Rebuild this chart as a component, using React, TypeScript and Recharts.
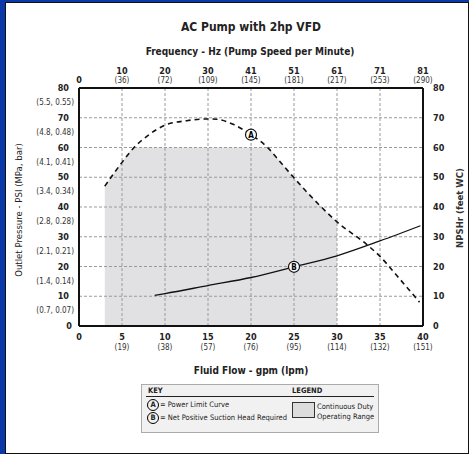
import React from 'react';
import {
  ComposedChart, Line, Area, XAxis, YAxis, ReferenceLine, ReferenceDot,
} from 'recharts';

// flow ticks (gpm) and their lpm / frequency labels
const flowTicks = [0, 5, 10, 15, 20, 25, 30, 35, 40];
const lpmLabels = ['', '(19)', '(38)', '(57)', '(76)', '(95)', '(114)', '(132)', '(151)'];
const hzLabels = ['0', '10', '20', '30', '41', '51', '61', '71', '81'];
const rpmLabels = ['', '(36)', '(72)', '(109)', '(145)', '(181)', '(217)', '(253)', '(290)'];

// pressure ticks (psi) and their MPa / bar labels
const psiTicks = [0, 10, 20, 30, 40, 50, 60, 70, 80];
const mpaLabels = ['', '(0.7, 0.07)', '(1.4, 0.14)', '(2.1, 0.21)', '(2.8, 0.28)', '(3.4, 0.34)', '(4.1, 0.41)', '(4.8, 0.48)', '(5.5, 0.55)'];

const gridX = [5, 10, 15, 20, 25, 30, 35];
const gridY = [10, 20, 30, 40, 50, 60, 70];

// A - power limit curve
const powerLimit = [
  { x: 3, y: 47 }, { x: 5, y: 55 }, { x: 6.5, y: 60.3 }, { x: 8, y: 64 },
  { x: 10, y: 67.5 }, { x: 12.5, y: 69 }, { x: 15, y: 69.6 }, { x: 16, y: 69.5 },
  { x: 18, y: 67.7 }, { x: 20, y: 64.3 }, { x: 22, y: 59.8 }, { x: 23, y: 56.5 },
  { x: 25, y: 49.8 }, { x: 28, y: 40.5 }, { x: 30, y: 35 }, { x: 33.5, y: 27.3 },
  { x: 35, y: 23.4 }, { x: 37, y: 16.8 }, { x: 39.6, y: 8 },
];

// B - net positive suction head required
const npshr = [
  { x: 8.8, y: 10.3 }, { x: 10, y: 10.9 }, { x: 15, y: 13.6 }, { x: 20, y: 16.3 },
  { x: 25, y: 19.9 }, { x: 30, y: 23.6 }, { x: 35, y: 28.6 }, { x: 39.7, y: 33.7 },
];

// continuous duty operating range
const dutyRange = [
  { x: 3, y: 47 }, { x: 5, y: 55 }, { x: 6.5, y: 60 }, { x: 21.6, y: 60 },
  { x: 22, y: 59.8 }, { x: 23, y: 56.5 }, { x: 25, y: 49.8 }, { x: 28, y: 40.5 },
  { x: 30, y: 35 },
];

const FONT = '"DejaVu Sans Condensed", "DejaVu Sans", sans-serif';

const BottomTick = ({ x, y, payload }: any) => {
  const i = flowTicks.indexOf(payload.value);
  return (
    <g fontFamily={FONT}>
      <text x={x} y={y + 11} textAnchor="middle" dominantBaseline="central" fontSize={9} fontWeight="bold" fill="#222">{payload.value}</text>
      {lpmLabels[i] && (
        <text x={x} y={y + 21} textAnchor="middle" dominantBaseline="central" fontSize={8} fill="#333">{lpmLabels[i]}</text>
      )}
    </g>
  );
};

const TopTick = ({ x, y, payload }: any) => {
  const i = flowTicks.indexOf(Number(payload.value));
  if (i <= 0) return null;
  return (
    <g fontFamily={FONT}>
      <text x={x} y={y - 17} textAnchor="middle" dominantBaseline="central" fontSize={9} fontWeight="bold" fill="#222">{hzLabels[i]}</text>
      <text x={x} y={y - 8} textAnchor="middle" dominantBaseline="central" fontSize={8} fill="#333">{rpmLabels[i]}</text>
    </g>
  );
};

const LeftTick = ({ x, y, payload }: any) => {
  const i = psiTicks.indexOf(payload.value);
  return (
    <g fontFamily={FONT}>
      <text x={i === 0 ? x - 7 : x - 10} y={y} textAnchor="end" dominantBaseline="central" fontSize={9} fontWeight="bold" fill="#222">{payload.value}</text>
      {mpaLabels[i] && (
        <text x={x - 5} y={y + 14.5} textAnchor="end" dominantBaseline="central" fontSize={8} fill="#333">{mpaLabels[i]}</text>
      )}
    </g>
  );
};

const RightTick = ({ x, y, payload }: any) => (
  <text x={x + 10} y={y} textAnchor="start" dominantBaseline="central" fontSize={9} fontWeight="bold" fill="#222" fontFamily={FONT}>{payload.value}</text>
);

const markerLabel = (v: string) => ({ value: v, position: 'center' as const, fontSize: 8, fontWeight: 'bold', fill: '#000', fontFamily: FONT });

const KeyCircle = ({ letter }: { letter: string }) => (
  <span style={{
    display: 'inline-block', width: 10, height: 10, borderRadius: '50%', border: '1.2px solid #000',
    fontSize: 7.5, fontWeight: 'bold', lineHeight: '10px', textAlign: 'center', marginRight: 1, verticalAlign: 'middle',
  }}>{letter}</span>
);

export default function App() {
  return (
    <div style={{ position: 'absolute', left: 0, top: 0, width: 469, height: 454, background: '#0b38a8', fontFamily: FONT }}>
      <div style={{ position: 'absolute', left: 5, top: 2, width: 462, height: 450, background: '#fff', borderLeft: '1.5px solid #111', borderTop: '1.5px solid #111', borderBottom: '1.5px solid #111', borderRight: '1px solid #111' }} />
      <div style={{ position: 'absolute', left: 0, width: 502, top: 20, textAlign: 'center', fontSize: 12, fontWeight: 'bold', color: '#222' }}>AC Pump with 2hp VFD</div>
      <div style={{ position: 'absolute', left: 0, width: 500, top: 46, textAlign: 'center', fontSize: 10, fontWeight: 'bold', color: '#222' }}>Frequency - Hz (Pump Speed per Minute)</div>
      <div style={{ position: 'absolute', left: 0, width: 502, top: 365, textAlign: 'center', fontSize: 10, fontWeight: 'bold', color: '#222' }}>Fluid Flow - gpm (lpm)</div>
      <div style={{ position: 'absolute', left: 18, top: 210, width: 0, height: 0 }}>
        <div style={{ position: 'absolute', transform: 'translate(-50%, -50%) rotate(-90deg)', whiteSpace: 'nowrap', fontSize: 9.5, color: '#222' }}>Outlet Pressure - PSI (MPa, bar)</div>
      </div>
      <div style={{ position: 'absolute', left: 459, top: 208, width: 0, height: 0 }}>
        <div style={{ position: 'absolute', transform: 'translate(-50%, -50%) rotate(-90deg)', whiteSpace: 'nowrap', fontSize: 9.5, fontWeight: 'bold', color: '#333' }}>NPSHr (feet WC)</div>
      </div>

      <div style={{ position: 'absolute', left: 0, top: 0 }}>
        <ComposedChart width={469} height={454} margin={{ top: 58, right: 6, bottom: 98, left: 19 }}>
          <XAxis xAxisId={0} dataKey="x" type="number" domain={[0, 40]} ticks={flowTicks} orientation="bottom"
            height={30} tickLine={false} tickSize={0} tickMargin={0} tick={<BottomTick />}
            axisLine={{ stroke: '#111', strokeWidth: 2 }} interval={0} />
          <XAxis xAxisId="top" dataKey="x" type="number" domain={[0, 40]} ticks={flowTicks} orientation="top"
            height={30} tickLine={false} tickSize={0} tickMargin={0} tick={<TopTick />}
            axisLine={{ stroke: '#111', strokeWidth: 2 }} interval={0} />
          <YAxis yAxisId={0} type="number" domain={[0, 80]} ticks={psiTicks} orientation="left" width={60}
            tickLine={false} tickSize={0} tickMargin={0} tick={<LeftTick />}
            axisLine={{ stroke: '#111', strokeWidth: 2 }} interval={0} />
          <YAxis yAxisId="right" type="number" domain={[0, 80]} ticks={psiTicks} orientation="right" width={40}
            tickLine={false} tickSize={0} tickMargin={0} tick={<RightTick />}
            axisLine={{ stroke: '#111', strokeWidth: 2 }} interval={0} />

          <Area data={dutyRange} dataKey="y" type="monotone" fill="#e1e1e3" fillOpacity={1} stroke="none" isAnimationActive={false} />

          {gridX.map((v) => (
            <ReferenceLine key={'gx' + v} x={v} stroke="#9a9a9a" strokeDasharray="3 2" strokeWidth={1} />
          ))}
          {gridY.map((v) => (
            <ReferenceLine key={'gy' + v} y={v} stroke="#9a9a9a" strokeDasharray="3 2" strokeWidth={1} />
          ))}

          <Line data={powerLimit} dataKey="y" type="monotone" stroke="#111" strokeWidth={1.6} strokeDasharray="5 4" dot={false} isAnimationActive={false} />
          <Line data={npshr} dataKey="y" type="monotone" stroke="#111" strokeWidth={1.3} dot={false} isAnimationActive={false} />
          {/* NPSHr also read against the top frequency and right feet-WC axes */}
          <Line data={npshr} dataKey="y" xAxisId="top" yAxisId="right" type="monotone" stroke="none" dot={false} activeDot={false} isAnimationActive={false} />

          <ReferenceDot x={20} y={64.3} r={5.5} fill="#fff" stroke="#111" strokeWidth={1.2} label={markerLabel('A')} />
          <ReferenceDot x={25} y={19.9} r={5.5} fill="#fff" stroke="#111" strokeWidth={1.2} label={markerLabel('B')} />
        </ComposedChart>
      </div>

      {/* frequency origin label at the top-left corner of the plot */}
      <div style={{ position: 'absolute', left: 79, top: 80, width: 0, height: 0 }}>
        <div style={{ position: 'absolute', transform: 'translate(-50%, -50%)', fontSize: 9, fontWeight: 'bold', color: '#222', lineHeight: '10px' }}>{hzLabels[0]}</div>
      </div>

      <div style={{ position: 'absolute', left: 141, top: 384, width: 236, height: 47, background: '#f1f1f1', border: '1px solid #aaa', fontSize: 7.5, color: '#222' }}>
        <div style={{ position: 'absolute', left: 6, top: 1, fontWeight: 'bold' }}>KEY</div>
        <div style={{ position: 'absolute', left: 150, top: 1, fontWeight: 'bold' }}>LEGEND</div>
        <div style={{ position: 'absolute', left: 4, right: 4, top: 11, borderTop: '1px solid #222' }} />
        <div style={{ position: 'absolute', left: 5, top: 14, whiteSpace: 'nowrap' }}><KeyCircle letter="A" />= Power Limit Curve</div>
        <div style={{ position: 'absolute', left: 5, top: 27, whiteSpace: 'nowrap' }}><KeyCircle letter="B" />= Net Positive Suction Head Required</div>
        <div style={{ position: 'absolute', left: 150, top: 17, width: 21, height: 14, background: '#dcdcdc', border: '1px solid #333' }} />
        <div style={{ position: 'absolute', left: 175, top: 17, lineHeight: '10px', whiteSpace: 'nowrap' }}>Continuous Duty<br />Operating Range</div>
      </div>
    </div>
  );
}
